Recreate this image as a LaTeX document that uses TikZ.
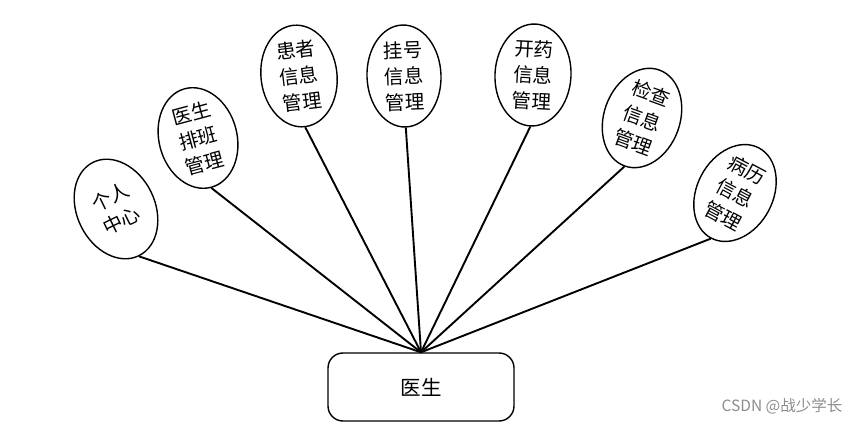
\documentclass[tikz,border=0pt]{standalone}
\usepackage{fontspec}
\newfontfamily\cjk{Noto Sans CJK SC}
\usetikzlibrary{shapes.geometric}
\tikzset{
  bub/.style={draw=black, line width=1.4pt, ellipse, fill=white, inner sep=0pt,
    minimum width=76pt, minimum height=102pt, align=center,
    font=\cjk\fontsize{19.5}{26}\selectfont},
  link/.style={draw=black, line width=1.9pt},
  rolebox/.style={draw=black, line width=1.4pt, rounded corners=15pt, fill=white,
    minimum width=186pt, minimum height=68pt, inner sep=0pt,
    font=\cjk\fontsize{20.5}{24}\selectfont}
}
\begin{document}
\begin{tikzpicture}[x=1pt,y=-1pt]
\useasboundingbox (0,0) rectangle (868,425);
\node[rolebox] (doc) at (421,387) {医生};
\node[bub, minimum width=78pt, minimum height=104pt, rotate=26] (gr) at (116,209) {个人\\中心};
\node[bub, minimum width=78pt, minimum height=102pt, rotate=15] (pb) at (198,138) {医生\\排班\\管理};
\node[bub, rotate=7] (hz) at (299,76) {患者\\信息\\管理};
\node[bub, minimum width=74pt, rotate=2] (gh) at (404,76) {挂号\\信息\\管理};
\node[bub, rotate=-3] (ky) at (533,75) {开药\\信息\\管理};
\node[bub, rotate=-20] (jc) at (642,118) {检查\\信息\\管理};
\node[bub, rotate=-28] (bl) at (735,193) {病历\\信息\\管理};
\foreach \n in {gr,pb,hz,gh,ky,jc,bl}{
  \draw[link] (doc.north) -- (\n.south);
}
\node[text=black!45, font=\cjk\fontsize{15.5}{18}\selectfont, inner sep=0pt] (wm) at (782,406) {CSDN @战少学长};
\end{tikzpicture}
\end{document}
